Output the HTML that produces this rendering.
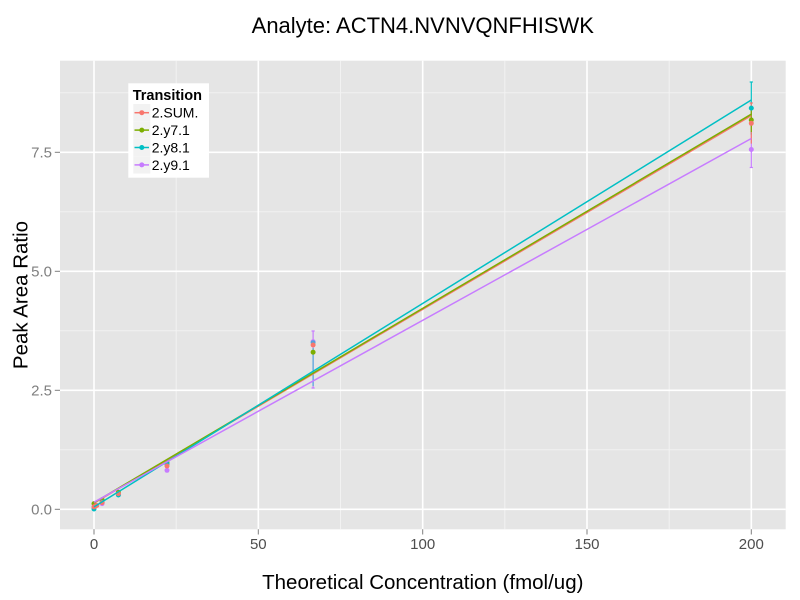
<!DOCTYPE html>
<html>
<head>
<meta charset="utf-8">
<style>
html,body{margin:0;padding:0;background:#fff;}
svg{display:block;}
text{font-family:"Liberation Sans",Arial,sans-serif;}
</style>
</head>
<body>
<svg width="800" height="600" viewBox="0 0 800 600" xmlns="http://www.w3.org/2000/svg">
  <rect x="0" y="0" width="800" height="600" fill="#ffffff"/>
  <!-- panel -->
  <rect x="60" y="60.7" width="725.7" height="468.6" fill="#E5E5E5"/>
  <!-- minor grid -->
  <g stroke="#F2F2F2" stroke-width="1">
    <line x1="176.2" y1="60.7" x2="176.2" y2="529.3"/>
    <line x1="340.5" y1="60.7" x2="340.5" y2="529.3"/>
    <line x1="504.8" y1="60.7" x2="504.8" y2="529.3"/>
    <line x1="669.2" y1="60.7" x2="669.2" y2="529.3"/>
    <line x1="60" y1="449.8" x2="785.7" y2="449.8"/>
    <line x1="60" y1="330.8" x2="785.7" y2="330.8"/>
    <line x1="60" y1="211.8" x2="785.7" y2="211.8"/>
    <line x1="60" y1="92.8" x2="785.7" y2="92.8"/>
  </g>
  <!-- major grid -->
  <g stroke="#FFFFFF" stroke-width="1.6">
    <line x1="94" y1="60.7" x2="94" y2="529.3"/>
    <line x1="258.3" y1="60.7" x2="258.3" y2="529.3"/>
    <line x1="422.7" y1="60.7" x2="422.7" y2="529.3"/>
    <line x1="587" y1="60.7" x2="587" y2="529.3"/>
    <line x1="751.3" y1="60.7" x2="751.3" y2="529.3"/>
    <line x1="60" y1="509.3" x2="785.7" y2="509.3"/>
    <line x1="60" y1="390.3" x2="785.7" y2="390.3"/>
    <line x1="60" y1="271.3" x2="785.7" y2="271.3"/>
    <line x1="60" y1="152.3" x2="785.7" y2="152.3"/>
  </g>

  <!-- error bars -->
  <g stroke-width="1.2" fill="none">
    <g stroke="#C77CFF">
      <line x1="313.1" y1="331" x2="313.1" y2="388"/>
      <line x1="311.5" y1="331" x2="314.7" y2="331"/>
      <line x1="311.5" y1="388" x2="314.7" y2="388"/>
      <line x1="751.3" y1="131.3" x2="751.3" y2="167.5"/>
      <line x1="749.7" y1="167.5" x2="752.9" y2="167.5"/>
    </g>
    <g stroke="#00BFC4" stroke-opacity="0.6">
      <line x1="313.1" y1="348" x2="313.1" y2="386"/>
    </g>
    <g stroke="#00BFC4">
      <line x1="751.3" y1="82" x2="751.3" y2="134.6"/>
      <line x1="749.7" y1="82" x2="752.9" y2="82"/>
    </g>
    <g stroke="#F8766D">
      <line x1="751.3" y1="103" x2="751.3" y2="143.6"/>
      <line x1="749.7" y1="103" x2="752.9" y2="103"/>
    </g>
    <g stroke="#7CAE00">
      <line x1="751.3" y1="108" x2="751.3" y2="132"/>
    </g>
  </g>

  <!-- points -->
  <g>
    <g fill="#7CAE00">
      <circle cx="94" cy="503.6" r="2.5"/>
      <circle cx="102.1" cy="499.8" r="2.5"/>
      <circle cx="118.4" cy="492.2" r="2.5"/>
      <circle cx="167" cy="462.7" r="2.5"/>
      <circle cx="313.1" cy="352.2" r="2.5"/>
      <circle cx="751.3" cy="120" r="2.5"/>
    </g>
    <g fill="#C77CFF">
      <circle cx="94" cy="507" r="2.5"/>
      <circle cx="102.1" cy="503.6" r="2.5"/>
      <circle cx="118.4" cy="494.5" r="2.5"/>
      <circle cx="167" cy="470.3" r="2.5"/>
      <circle cx="313.1" cy="341.7" r="2.5"/>
      <circle cx="751.3" cy="149.5" r="2.5"/>
    </g>
    <g fill="#00BFC4">
      <circle cx="94" cy="509" r="2.5"/>
      <circle cx="102.1" cy="502.2" r="2.5"/>
      <circle cx="118.4" cy="495" r="2.5"/>
      <circle cx="167" cy="464" r="2.5"/>
      <circle cx="313.1" cy="342.7" r="2.5" fill-opacity="0.6"/>
      <circle cx="751.3" cy="108.1" r="2.5"/>
    </g>
    <g fill="#F8766D">
      <circle cx="94" cy="506.9" r="2.5"/>
      <circle cx="94.9" cy="506.4" r="2.5"/>
      <circle cx="96.7" cy="505.5" r="2.5"/>
      <circle cx="102.1" cy="502.6" r="2.5"/>
      <circle cx="118.4" cy="493.6" r="2.5"/>
      <circle cx="167" cy="466" r="2.5"/>
      <circle cx="313.1" cy="345" r="2.5"/>
      <circle cx="751.3" cy="123.3" r="2.5"/>
    </g>
  </g>

  <!-- fitted lines -->
  <g stroke-width="1.5" fill="none">
    <line x1="94" y1="503.1" x2="751.3" y2="115.6" stroke="#F8766D"/>
    <line x1="94" y1="502.6" x2="751.3" y2="114.2" stroke="#7CAE00"/>
    <line x1="94" y1="506.9" x2="751.3" y2="100" stroke="#00BFC4"/>
    <line x1="94" y1="502.2" x2="751.3" y2="138.5" stroke="#C77CFF"/>
  </g>

  <!-- axis ticks -->
  <g stroke="#7F7F7F" stroke-width="1">
    <line x1="94" y1="529.3" x2="94" y2="534.5"/>
    <line x1="258.3" y1="529.3" x2="258.3" y2="534.5"/>
    <line x1="422.7" y1="529.3" x2="422.7" y2="534.5"/>
    <line x1="587" y1="529.3" x2="587" y2="534.5"/>
    <line x1="751.3" y1="529.3" x2="751.3" y2="534.5"/>
    <line x1="54.8" y1="509.3" x2="60" y2="509.3"/>
    <line x1="54.8" y1="390.3" x2="60" y2="390.3"/>
    <line x1="54.8" y1="271.3" x2="60" y2="271.3"/>
    <line x1="54.8" y1="152.3" x2="60" y2="152.3"/>
  </g>

  <!-- tick labels -->
  <g font-size="15" fill="#4D4D4D" text-anchor="middle">
    <text x="94" y="549">0</text>
    <text x="258.3" y="549">50</text>
    <text x="422.7" y="549">100</text>
    <text x="587" y="549">150</text>
    <text x="751.3" y="549">200</text>
  </g>
  <g font-size="15" fill="#7F7F7F" text-anchor="end">
    <text x="52" y="514.6">0.0</text>
    <text x="52" y="395.6">2.5</text>
    <text x="52" y="276.6">5.0</text>
    <text x="52" y="157.6">7.5</text>
  </g>

  <!-- titles -->
  <text x="422.8" y="33" font-size="22" text-anchor="middle" fill="#000">Analyte: ACTN4.NVNVQNFHISWK</text>
  <text x="422.8" y="589" font-size="20.5" text-anchor="middle" fill="#000">Theoretical Concentration (fmol/ug)</text>
  <text transform="translate(27.5,295) rotate(-90)" x="0" y="0" font-size="20.5" text-anchor="middle" fill="#000">Peak Area Ratio</text>

  <!-- legend -->
  <rect x="128.3" y="83.3" width="80.7" height="94.4" fill="#FFFFFF"/>
  <text x="132.7" y="100" font-size="14.5" font-weight="bold" fill="#000">Transition</text>
  <g>
    <rect x="133.3" y="104" width="17" height="17.3" fill="#F2F2F2"/>
    <rect x="133.3" y="121.4" width="17" height="17.3" fill="#F2F2F2"/>
    <rect x="133.3" y="138.8" width="17" height="17.3" fill="#F2F2F2"/>
    <rect x="133.3" y="156.2" width="17" height="17.3" fill="#F2F2F2"/>
    <line x1="134.5" y1="112.7" x2="149" y2="112.7" stroke="#F8766D" stroke-width="1.5"/>
    <circle cx="141.8" cy="112.7" r="2.5" fill="#F8766D"/>
    <line x1="134.5" y1="130.1" x2="149" y2="130.1" stroke="#7CAE00" stroke-width="1.5"/>
    <circle cx="141.8" cy="130.1" r="2.5" fill="#7CAE00"/>
    <line x1="134.5" y1="147.5" x2="149" y2="147.5" stroke="#00BFC4" stroke-width="1.5"/>
    <circle cx="141.8" cy="147.5" r="2.5" fill="#00BFC4"/>
    <line x1="134.5" y1="164.9" x2="149" y2="164.9" stroke="#C77CFF" stroke-width="1.5"/>
    <circle cx="141.8" cy="164.9" r="2.5" fill="#C77CFF"/>
  </g>
  <g font-size="14" fill="#000">
    <text x="151.7" y="117.7">2.SUM.</text>
    <text x="151.7" y="135.1">2.y7.1</text>
    <text x="151.7" y="152.5">2.y8.1</text>
    <text x="151.7" y="169.9">2.y9.1</text>
  </g>
</svg>
</body>
</html>
